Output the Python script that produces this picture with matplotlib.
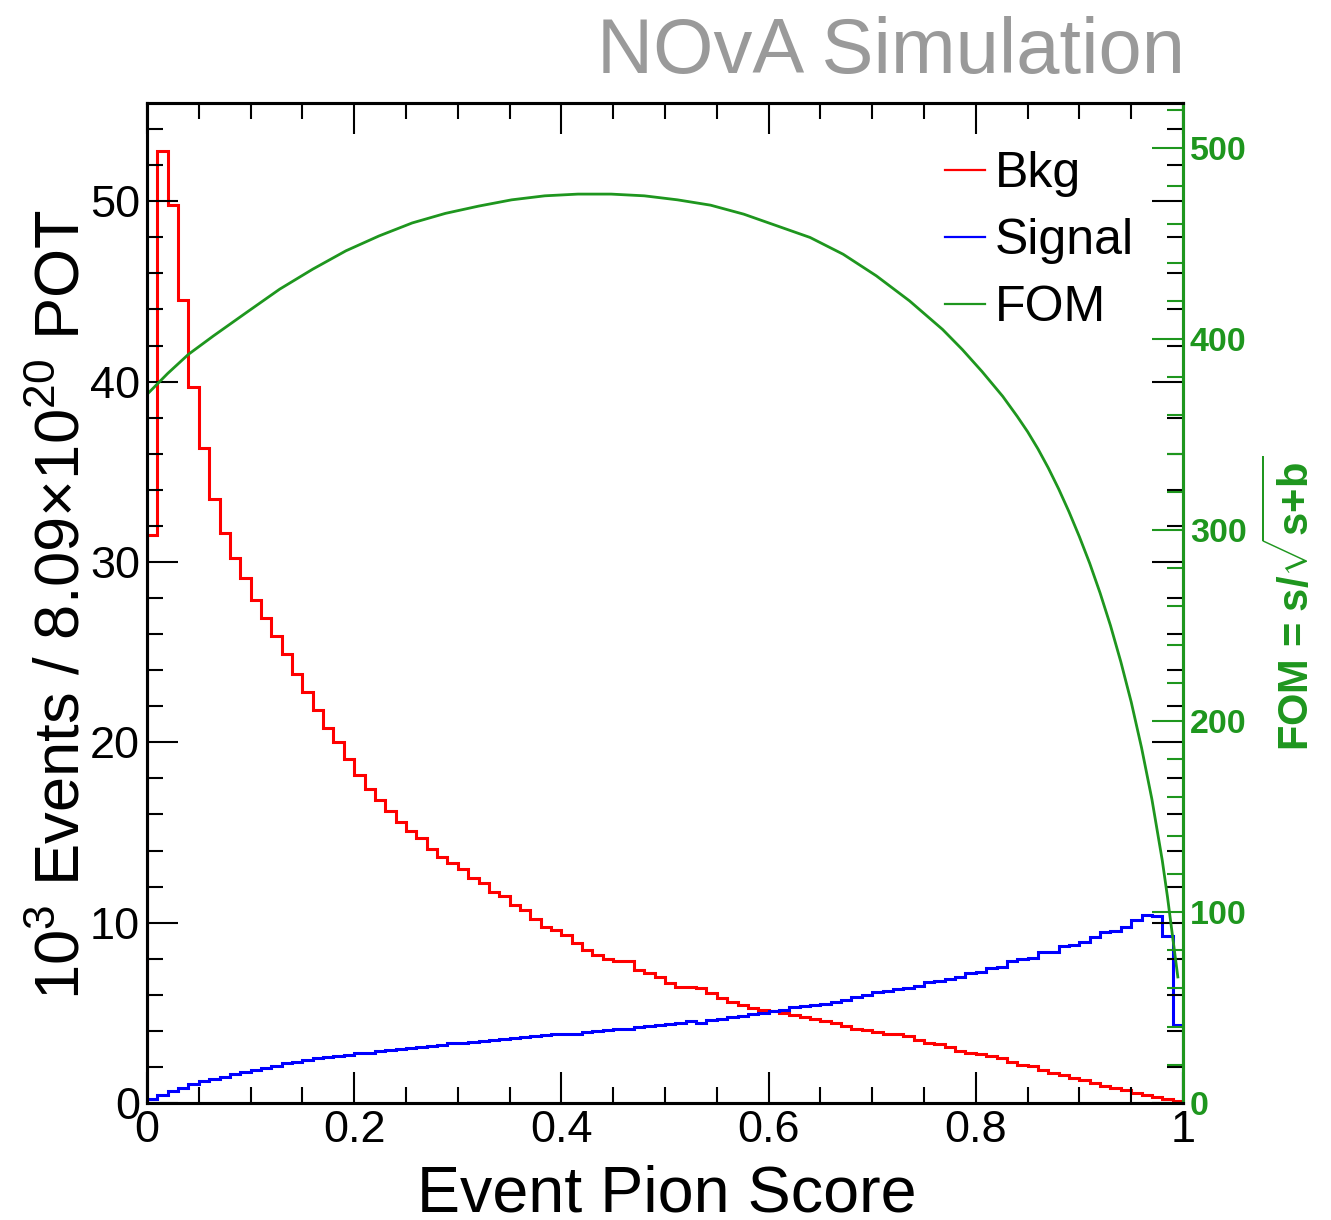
import numpy as np
import matplotlib
matplotlib.use('Agg')
import matplotlib.pyplot as plt
from matplotlib.lines import Line2D
from matplotlib.ticker import MultipleLocator, FuncFormatter

plt.rcParams['font.family'] = ['Liberation Sans', 'DejaVu Sans']
plt.rcParams['mathtext.fontset'] = 'custom'
plt.rcParams['mathtext.rm'] = 'Liberation Sans'
plt.rcParams['mathtext.it'] = 'Liberation Sans:italic'
plt.rcParams['mathtext.bf'] = 'Liberation Sans:bold'

# 100 bins in pion score, contents in 10^3 events
edges = np.linspace(0, 1, 101)
bkg = [31.5, 52.8, 49.8, 44.5, 39.7, 36.3, 33.5, 31.6, 30.2, 29.1,
       27.9, 26.9, 25.9, 24.9, 23.8, 22.8, 21.8, 20.8, 20.0, 19.1,
       18.2, 17.4, 16.8, 16.2, 15.6, 15.1, 14.7, 14.1, 13.65, 13.3,
       13.0, 12.45, 12.2, 11.7, 11.5, 11.0, 10.7, 10.2, 9.75, 9.6,
       9.3, 8.85, 8.5, 8.2, 8.0, 7.9, 7.85, 7.4, 7.2, 7.0,
       6.65, 6.45, 6.45, 6.4, 6.1, 5.8, 5.62, 5.45, 5.25, 5.15,
       5.08, 4.97, 4.88, 4.75, 4.65, 4.56, 4.42, 4.25, 4.12, 4.05,
       3.95, 3.85, 3.8, 3.72, 3.5, 3.3, 3.25, 3.12, 2.9, 2.78,
       2.7, 2.6, 2.48, 2.25, 2.12, 2.03, 1.85, 1.68, 1.55, 1.38,
       1.27, 1.1, 0.95, 0.82, 0.72, 0.58, 0.45, 0.32, 0.2, 0.12]
signal = [0.2, 0.45, 0.65, 0.85, 1.05, 1.2, 1.35, 1.45, 1.6, 1.7,
          1.85, 1.95, 2.05, 2.2, 2.3, 2.4, 2.5, 2.55, 2.6, 2.65,
          2.75, 2.8, 2.9, 2.95, 3.0, 3.05, 3.1, 3.15, 3.2, 3.3,
          3.35, 3.4, 3.45, 3.5, 3.55, 3.6, 3.65, 3.7, 3.75, 3.8,
          3.82, 3.85, 3.95, 3.97, 4.05, 4.08, 4.1, 4.2, 4.25, 4.35,
          4.38, 4.45, 4.56, 4.45, 4.62, 4.66, 4.78, 4.82, 4.95, 4.98,
          5.12, 5.18, 5.33, 5.38, 5.44, 5.47, 5.58, 5.73, 5.88, 6.0,
          6.15, 6.2, 6.3, 6.4, 6.5, 6.7, 6.75, 6.9, 7.0, 7.2,
          7.25, 7.5, 7.55, 7.85, 8.0, 8.05, 8.35, 8.4, 8.72, 8.78,
          8.95, 9.18, 9.48, 9.52, 9.77, 10.14, 10.45, 10.35, 9.28, 4.35]

# figure of merit vs cut value
fom_cut = [0.0, 0.02, 0.04, 0.064, 0.096, 0.128, 0.16, 0.192, 0.224, 0.256,
           0.288, 0.32, 0.352, 0.384, 0.416, 0.448, 0.48, 0.512, 0.544, 0.576,
           0.608, 0.64, 0.672, 0.704, 0.736, 0.768, 0.787, 0.806, 0.826, 0.84,
           0.85, 0.86, 0.87, 0.88, 0.89, 0.90, 0.91, 0.92, 0.93, 0.94,
           0.95, 0.96, 0.97, 0.98, 0.985, 0.99, 0.995]
fom = [371, 382, 392, 401.6, 413.9, 426.1, 436.6, 446.2, 454.0, 460.8,
       465.8, 469.6, 472.9, 475.0, 475.9, 475.9, 475.0, 472.9, 470.1, 465.4,
       459.3, 453.2, 444.4, 433.1, 420.0, 405.0, 394.5, 383.0, 370.0, 359.5,
       351.5, 342.5, 332.5, 321.5, 309.5, 296.5, 282.5, 267, 250, 231,
       210, 186, 159, 127, 108, 87, 66]

green = '#1e961e'
W, H = 1331, 1220

fig = plt.figure(figsize=(W / 100, H / 100), dpi=100)
ax = fig.add_axes([147 / W, 1 - 1103 / H, 1036 / W, 1000 / H])
ax2 = ax.twinx()

ax.stairs(bkg, edges, baseline=0, color='red', lw=2.2)
ax.stairs(signal, edges, baseline=0, color='blue', lw=2.2)
ax2.plot(fom_cut, fom, color=green, lw=2)

ax.set_xlim(0, 1)
ax.set_ylim(0, 55.45)
ax2.set_ylim(0, 523.6)

ax.xaxis.set_major_locator(MultipleLocator(0.2))
ax.xaxis.set_minor_locator(MultipleLocator(0.05))
ax.xaxis.set_major_formatter(FuncFormatter(lambda v, p: '%g' % round(v, 3)))
ax.yaxis.set_major_locator(MultipleLocator(10))
ax.yaxis.set_minor_locator(MultipleLocator(2))
ax2.yaxis.set_major_locator(MultipleLocator(100))
ax2.yaxis.set_minor_locator(MultipleLocator(20))

ax.tick_params(which='both', direction='in', top=True, right=True,
               width=1.5, labelsize=32.5, pad=5)
ax.tick_params(which='major', length=22)
ax.tick_params(which='minor', length=11.5)
ax2.tick_params(which='both', direction='in', right=True, left=False,
                color=green, labelcolor=green, width=1.5, labelsize=24.5, pad=5)
ax2.tick_params(which='major', length=22)
ax2.tick_params(which='minor', length=11.5)
for lab in ax2.get_yticklabels():
    lab.set_fontweight('bold')

for sp in ax.spines.values():
    sp.set_linewidth(2.2)
for sp in ax2.spines.values():
    sp.set_linewidth(2.2)
ax2.spines['right'].set_color(green)

fig.text(63 / W, 1 - 605 / H, r'$10^{3}$ Events / 8.09×$10^{20}$ POT',
         rotation=90, ha='center', va='center', fontsize=45.5)
fig.text(667 / W, 1 - 1211 / H, 'Event Pion Score',
         ha='center', va='baseline', fontsize=46.5)
fig.text(1292 / W, 1 - 603 / H, r'FOM = s/$\sqrt{\mathbf{s{+}b}}$',
         rotation=90, ha='center', va='center', fontsize=30,
         fontweight='bold', color=green)
fig.text(1185 / W, 1 - 73 / H, 'NOvA Simulation', ha='right', va='baseline',
         fontsize=56, color='#9a9a9a')

handles = [Line2D([], [], color='red', lw=1.6),
           Line2D([], [], color='blue', lw=1.6),
           Line2D([], [], color=green, lw=1.6)]
ax2.legend(handles, ['Bkg', 'Signal', 'FOM'], loc='upper left',
           bbox_to_anchor=(945 / W, 1 - 151 / H), bbox_transform=fig.transFigure,
           frameon=False, fontsize=36, handlelength=0.8, handletextpad=0.2,
           labelspacing=0.42, borderpad=0, borderaxespad=0)

fig.savefig('out.png', dpi=100)
